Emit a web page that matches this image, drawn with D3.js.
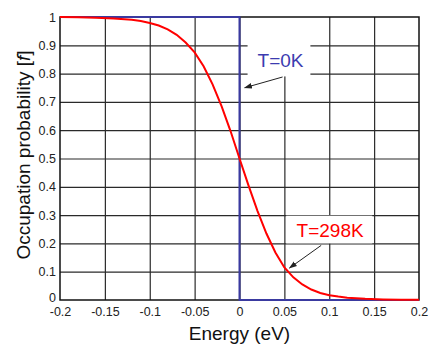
<!DOCTYPE html>
<html>
<head>
<meta charset="utf-8">
<script src="https://cdn.jsdelivr.net/npm/d3@7"></script>
<style>
  body { margin: 0; background: #fff; }
  svg { display: block; font-family: "Liberation Sans", Arial, sans-serif; }
</style>
</head>
<body>
<div id="chart"></div>
<script>
// energy (eV) and occupation
const energy = [-0.2, -0.18, -0.16, -0.14, -0.12, -0.11, -0.1, -0.09, -0.08, -0.07, -0.06, -0.05, -0.04, -0.03, -0.02, -0.01,
  0, 0.01, 0.02, 0.03, 0.04, 0.05, 0.06, 0.07, 0.08, 0.09, 0.1, 0.11, 0.12, 0.14, 0.16, 0.18, 0.2];
const fRoom = [1.0, 0.999, 0.997, 0.995, 0.99, 0.986, 0.979, 0.97, 0.956, 0.937, 0.91, 0.875, 0.826, 0.762, 0.685, 0.597,
  0.5, 0.405, 0.315, 0.235, 0.168, 0.115, 0.08, 0.055, 0.037, 0.025, 0.017, 0.012, 0.008, 0.004, 0.002, 0.001, 0.0005];

// T = 0K step
const energyZero = [-0.2, 0, 0, 0.2];
const fZero = [1, 1, 0, 0];

const xTicks = [-0.2, -0.15, -0.1, -0.05, 0, 0.05, 0.1, 0.15, 0.2];
const xTickLabels = ['-0.2', '-0.15', '-0.1', '-0.05', '0', '0.05', '0.1', '0.15', '0.2'];
const yTicks = [0, 0.1, 0.2, 0.3, 0.4, 0.5, 0.6, 0.7, 0.8, 0.9, 1];
const yTickLabels = ['0', '0.1', '0.2', '0.3', '0.4', '0.5', '0.6', '0.7', '0.8', '0.9', '1'];

// annotations in data units: label centre, arrow start, arrow tip
const noteText = ['T=0K', 'T=298K'];
const noteColor = ['#3c3cb0', '#ff0000'];
const noteAt = [[0.0457, 0.848], [0.101, 0.247]];
const noteBox = [[0.009, 0.079, 1.0, 0.79], [0.052, 0.148, 0.298, 0.2]];
const arrowFrom = [[0.048, 0.788], [0.091, 0.193]];
const arrowTo = [[0.0058, 0.75], [0.0557, 0.113]];

const W = 429, H = 347;
const margin = { top: 17, right: 10, bottom: 47, left: 60 };
const width = W - margin.left - margin.right;
const height = H - margin.top - margin.bottom;

const x = d3.scaleLinear().domain([-0.2, 0.2]).range([0, width]);
const y = d3.scaleLinear().domain([0, 1]).range([height, 0]);

const svg = d3.select('#chart').append('svg')
  .attr('width', W)
  .attr('height', H);

svg.append('defs').append('marker')
  .attr('id', 'head')
  .attr('viewBox', '0 0 10 10')
  .attr('refX', 9).attr('refY', 5)
  .attr('markerWidth', 8).attr('markerHeight', 8)
  .attr('orient', 'auto')
  .append('path')
    .attr('d', 'M0,1.5 L10,5 L0,8.5 z')
    .attr('fill', '#222');

const g = svg.append('g')
  .attr('transform', `translate(${margin.left},${margin.top})`);

// grid
g.append('g')
  .attr('transform', `translate(0,${height})`)
  .call(d3.axisBottom(x).tickValues(xTicks.slice(1, -1)).tickSize(-height).tickFormat(''))
  .call(s => s.select('.domain').remove())
  .selectAll('line').attr('stroke', '#2a2a2a').attr('stroke-width', 1.2);

g.append('g')
  .call(d3.axisLeft(y).tickValues(yTicks.slice(1, -1)).tickSize(-width).tickFormat(''))
  .call(s => s.select('.domain').remove())
  .selectAll('line').attr('stroke', '#2a2a2a').attr('stroke-width', 1.2);

// white boxes behind labels
g.selectAll('rect.box')
  .data(noteBox)
  .enter().append('rect')
    .attr('class', 'box')
    .attr('x', d => x(d[0]))
    .attr('width', d => x(d[1]) - x(d[0]))
    .attr('y', d => y(d[2]))
    .attr('height', d => y(d[3]) - y(d[2]))
    .attr('fill', '#fff');

// frame
g.append('rect')
  .attr('width', width).attr('height', height)
  .attr('fill', 'none').attr('stroke', '#111').attr('stroke-width', 1.5);

// tick labels
g.append('g')
  .attr('transform', `translate(0,${height})`)
  .call(d3.axisBottom(x).tickValues(xTicks).tickSize(0).tickPadding(7)
    .tickFormat((d, i) => xTickLabels[i]))
  .call(s => s.select('.domain').remove())
  .selectAll('text')
    .attr('font-size', 12.5).attr('font-family', '"Liberation Sans", Arial, sans-serif').attr('fill', '#222');

g.append('g')
  .call(d3.axisLeft(y).tickValues(yTicks).tickSize(0).tickPadding(4)
    .tickFormat((d, i) => yTickLabels[i]))
  .call(s => s.select('.domain').remove())
  .call(s => s.selectAll('.tick').filter(d => d === 0).select('text').attr('dy', '0.1em'))
  .selectAll('text')
    .attr('font-size', 12.5).attr('font-family', '"Liberation Sans", Arial, sans-serif').attr('fill', '#222');

// curves
const line = d3.line().x(d => x(d[0])).y(d => y(d[1]));

g.append('path')
  .datum(energyZero.map((e, i) => [e, fZero[i]]))
  .attr('d', line)
  .attr('fill', 'none')
  .attr('stroke', '#3a3aa0')
  .attr('stroke-width', 2);

g.append('path')
  .datum(energy.map((e, i) => [e, fRoom[i]]))
  .attr('d', line)
  .attr('fill', 'none')
  .attr('stroke', '#ff0000')
  .attr('stroke-width', 2);

// arrows and labels
g.selectAll('line.arrow')
  .data(arrowFrom)
  .enter().append('line')
    .attr('class', 'arrow')
    .attr('x1', d => x(d[0])).attr('y1', d => y(d[1]))
    .attr('x2', (d, i) => x(arrowTo[i][0])).attr('y2', (d, i) => y(arrowTo[i][1]))
    .attr('stroke', '#222').attr('stroke-width', 1)
    .attr('marker-end', 'url(#head)');

g.selectAll('text.note')
  .data(noteText)
  .enter().append('text')
    .attr('class', 'note')
    .attr('x', (d, i) => x(noteAt[i][0]))
    .attr('y', (d, i) => y(noteAt[i][1]))
    .attr('dy', '0.35em')
    .attr('text-anchor', 'middle')
    .attr('font-size', 19)
    .attr('fill', (d, i) => noteColor[i])
    .text(d => d);

// axis titles
svg.append('text')
  .attr('x', margin.left + width / 2)
  .attr('y', 340)
  .attr('text-anchor', 'middle')
  .attr('font-size', 19)
  .attr('fill', '#111')
  .text('Energy (eV)');

const yt = svg.append('text')
  .attr('transform', 'translate(30,155) rotate(-90)')
  .attr('text-anchor', 'middle')
  .attr('font-size', 19)
  .attr('fill', '#111');
yt.append('tspan').text('Occupation probability [');
yt.append('tspan').attr('font-style', 'italic').text('f');
yt.append('tspan').text(']');
</script>
</body>
</html>
